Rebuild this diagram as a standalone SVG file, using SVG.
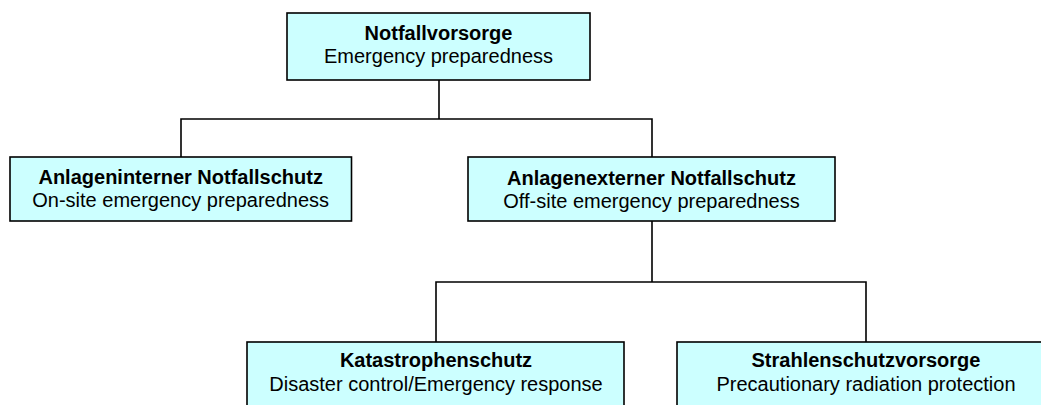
<svg xmlns="http://www.w3.org/2000/svg" width="1041" height="405" viewBox="0 0 1041 405">
<style>
.box{fill:#ccffff;stroke:#000;stroke-width:1.6}
.t{font-family:"Liberation Sans",Arial,sans-serif;font-size:20px;fill:#000;text-anchor:middle}
.b{font-weight:bold}
.c{fill:none;stroke:#000;stroke-width:1.6}
</style>
<rect width="1041" height="405" fill="#fff"/>
<g id="connectors">
<path class="c" d="M439 80V119M181 157V119H652V157"/>
<path class="c" d="M652 221V282M436 342V282H866V342"/>
</g>
<g id="n1">
<rect class="box" x="287" y="13" width="303" height="67"/>
<text class="t b" x="438.5" y="40">Notfallvorsorge</text>
<text class="t" x="438.5" y="63">Emergency preparedness</text>
</g>
<g id="n2">
<rect class="box" x="10" y="157" width="341.5" height="64"/>
<text class="t b" x="180.7" y="184">Anlageninterner Notfallschutz</text>
<text class="t" x="180.7" y="207">On-site emergency preparedness</text>
</g>
<g id="n3">
<rect class="box" x="468" y="157" width="367" height="64"/>
<text class="t b" x="651.5" y="185">Anlagenexterner Notfallschutz</text>
<text class="t" x="651.5" y="208">Off-site emergency preparedness</text>
</g>
<g id="n4">
<rect class="box" x="247" y="342" width="377" height="80"/>
<text class="t b" x="436" y="367">Katastrophenschutz</text>
<text class="t" x="436" y="391">Disaster control/Emergency response</text>
</g>
<g id="n5">
<rect class="box" x="677" y="342" width="378" height="80"/>
<text class="t b" x="866" y="367">Strahlenschutzvorsorge</text>
<text class="t" x="866" y="391">Precautionary radiation protection</text>
</g>
</svg>
